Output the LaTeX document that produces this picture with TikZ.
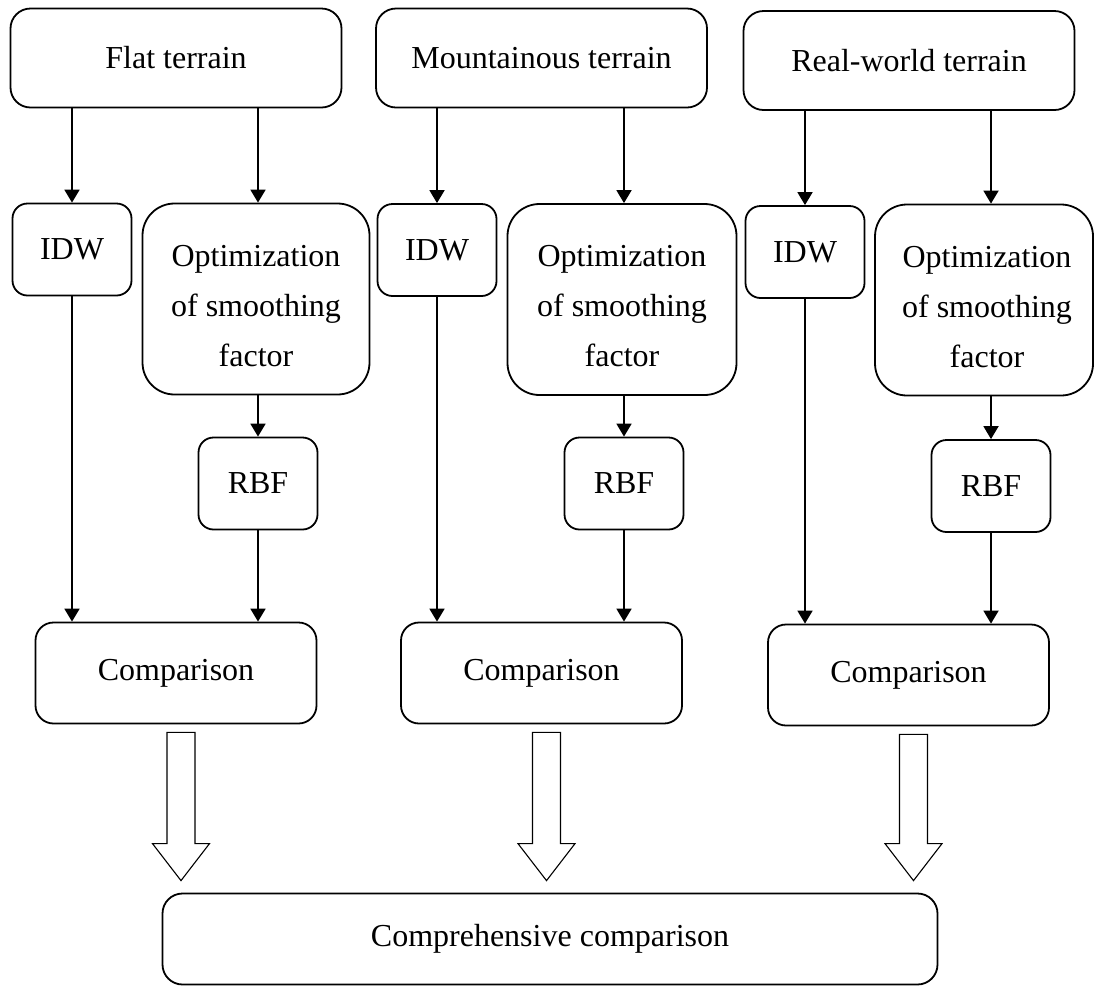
\documentclass[tikz,border=0pt]{standalone}
\usepackage{fontspec}
\setmainfont{Liberation Serif}
\usetikzlibrary{arrows.meta,calc}

\tikzset{
  box/.style={draw, line width=1.8pt, inner sep=0pt, align=center,
    font=\fontsize{32}{50}\selectfont},
  topbox/.style={box, rounded corners=20pt, minimum width=331pt, minimum height=99pt},
  smallbox/.style={box, rounded corners=15pt, minimum width=119pt, minimum height=92pt},
  optbox/.style={box, rounded corners=32pt, minimum height=191pt},
  opttext/.style={inner sep=0pt, align=center, font=\fontsize{32}{50}\selectfont},
  cmpbox/.style={box, rounded corners=18pt, minimum width=281pt, minimum height=101pt},
  arr/.style={line width=1.8pt, -{Triangle[length=13pt,width=15pt]}},
  hollow/.style={draw, line width=1.1pt, line join=miter, fill=white}
}

\begin{document}
\begin{tikzpicture}[x=1pt,y=1pt]
  \useasboundingbox (0,0) rectangle (1094,-989);

  % column 1: flat terrain
  \node[topbox]   (ft)   at (176,-58)    {Flat terrain};
  \node[smallbox] (idw1) at (72,-249.5)  {IDW};
  \node[optbox, minimum width=227pt] (opt1) at (256,-299) {};
  \node[opttext]  (opt1t) at ($(opt1)+(0,-7)$) {Optimization\\of smoothing\\factor};
  \node[smallbox] (rbf1) at (258,-483.5) {RBF};
  \node[cmpbox]   (cmp1) at (176,-673)   {Comparison};

  % column 2: mountainous terrain
  \node[topbox]   (mt)   at (541.5,-58)  {Mountainous terrain};
  \node[smallbox] (idw2) at (437,-250)   {IDW};
  \node[optbox, minimum width=229pt] (opt2) at (622,-299.5) {};
  \node[opttext]  (opt2t) at ($(opt2)+(0,-7)$) {Optimization\\of smoothing\\factor};
  \node[smallbox] (rbf2) at (624,-483.5) {RBF};
  \node[cmpbox]   (cmp2) at (541.5,-673) {Comparison};

  % column 3: real-world terrain
  \node[topbox]   (rt)   at (909,-60.5)  {Real-world terrain};
  \node[smallbox] (idw3) at (805,-252)   {IDW};
  \node[optbox, minimum width=218pt] (opt3) at (984,-300) {};
  \node[opttext]  (opt3t) at ($(opt3)+(3,-7)$) {Optimization\\of smoothing\\factor};
  \node[smallbox] (rbf3) at (991,-486)   {RBF};
  \node[cmpbox]   (cmp3) at (908.5,-675) {Comparison};

  % final box
  \node[box, rounded corners=20pt, minimum width=775pt, minimum height=91pt]
    (all) at (550,-939) {Comprehensive comparison};

  % thin connectors in each column
  \foreach \t/\i/\o/\r/\c in {ft/idw1/opt1/rbf1/cmp1, mt/idw2/opt2/rbf2/cmp2, rt/idw3/opt3/rbf3/cmp3}{
    \draw[arr] (\t.south -| \i.north) -- (\i.north);
    \draw[arr] (\t.south -| \r.north) -- (\r.north |- \o.north);
    \draw[arr] (\o.south -| \r.north) -- (\r.north);
    \draw[arr] (\i.south) -- (\i.south |- \c.north);
    \draw[arr] (\r.south) -- (\r.south |- \c.north);
  }

  % hollow block arrows into the final box
  \foreach \c in {cmp1,cmp2,cmp3}{
    \coordinate (\c-top) at ($(\c.south)+(5,-8)$);
    \coordinate (\c-tip) at ($(\c-top |- all.north)+(0,12)$);
    \draw[hollow] ($(\c-top)+(-14,0)$) -- ($(\c-top)+(14,0)$)
      -- ($(\c-tip)+(14,37)$) -- ($(\c-tip)+(28.5,37)$) -- (\c-tip)
      -- ($(\c-tip)+(-28.5,37)$) -- ($(\c-tip)+(-14,37)$) -- cycle;
  }
\end{tikzpicture}
\end{document}
